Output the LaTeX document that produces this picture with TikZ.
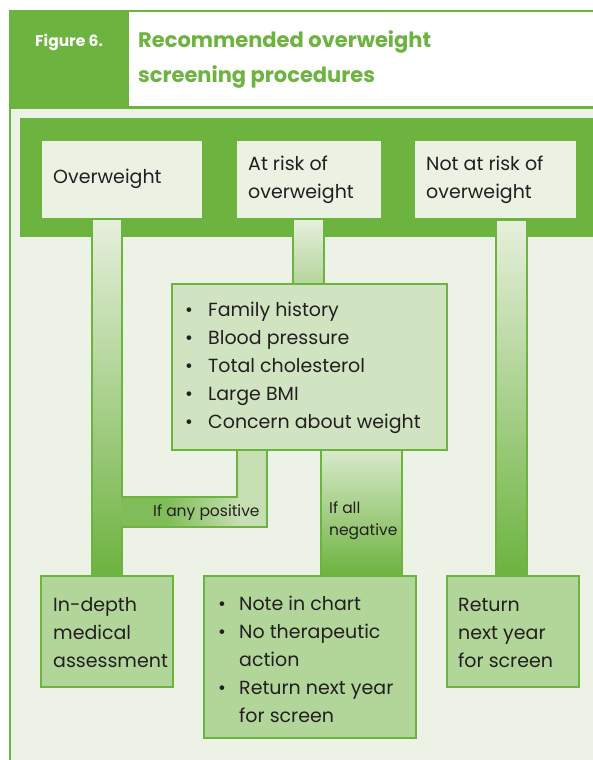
\documentclass[tikz,border=0pt]{standalone}
\usepackage{fontspec}
\setmainfont{Poppins}
\usetikzlibrary{calc}
\definecolor{gr}{HTML}{6DB33F}
\definecolor{bg}{HTML}{ECF2E5}
\definecolor{topbox}{HTML}{EBF1E3}
\definecolor{listbox}{HTML}{D1E4C2}
\definecolor{botbox}{HTML}{B2D69A}
\definecolor{lite}{HTML}{E6EFDC}
\definecolor{midg}{HTML}{A8CE8C}
\definecolor{hgone}{HTML}{80BD58}
\definecolor{lvert}{HTML}{C6DFB2}
\definecolor{negtop}{HTML}{D9EACB}
\definecolor{stubbot}{HTML}{B3D59B}
\definecolor{txt}{HTML}{231F20}
\newcommand\bulA{\makebox[23pt][l]{\textbullet}}
\newcommand\bulB{\makebox[21pt][l]{\textbullet}}
\begin{document}
\begin{tikzpicture}[x=1pt,y=-1pt,
  boxbase/.style={rectangle, anchor=north west, inner sep=0pt, draw=gr, line width=2pt},
  topboxst/.style={rectangle, anchor=north west, inner sep=0pt, fill=topbox},
  listboxst/.style={boxbase, fill=listbox},
  botboxst/.style={boxbase, fill=botbox},
  txtst/.style={anchor=west, inner sep=0pt, align=left, text=txt, font=\fontsize{19}{28}\selectfont},
  lblst/.style={anchor=west, inner sep=0pt, align=left, text=txt, font=\fontsize{15.5}{22}\selectfont},
  edge/.style={draw=gr, line width=2pt}
]
\useasboundingbox (0,0) rectangle (593,760);
\fill[white] (0,0) rectangle (593,760);
% frame and header
\fill[bg] (9,108) rectangle (593,760);
\draw[gr,line width=1.5pt] (9.75,108) -- (9.75,760);
\fill[gr] (9,10) rectangle (128.5,108);
\draw[gr,line width=2pt] (9,11) -- (593,11);
\draw[gr,line width=2.5pt] (9,107.5) -- (593,107.5);
\node[anchor=west, inner sep=0pt, text=white, font=\bfseries\fontsize{15.5}{18}\selectfont] (fig) at (35,42) {Figure 6.};
\node[anchor=west, inner sep=0pt, align=left, text=gr, font=\bfseries\fontsize{21}{35}\selectfont] (title) at (138,59) {Recommended overweight\\screening procedures};
% band
\fill[gr] (20,118) rectangle (593,237);

% connectors (thick bars)
% left bar
\shade[top color=lite, middle color=midg, bottom color=gr] (92,220) rectangle (122,575);
\draw[edge] (92,220) -- (92,575);
\draw[edge] (122,220) -- (122,497);
\draw[edge] (122,527) -- (122,575);
% if any positive L
\fill[hgone] (121,498) rectangle (168,526);
\shade[left color=hgone, right color=lvert] (167.5,498) rectangle (240,526);
\fill[lvert] (237,449) rectangle (267,526);
\draw[edge] (121,497) -- (237,497) -- (237,449);
\draw[edge] (267,449) -- (267,527) -- (121,527);
% at risk stub
\shade[top color=lite, bottom color=stubbot] (293,220) rectangle (324,283);
\draw[edge] (293,220) -- (293,283);
\draw[edge] (324,220) -- (324,283);
% if all negative
\shade[top color=negtop, bottom color=gr] (321,449) rectangle (402,575);
\draw[edge] (321,449) -- (321,575);
\draw[edge] (402,449) -- (402,575);
% right bar
\shade[top color=lite, bottom color=gr] (496,221) rectangle (527,575);
\draw[edge] (496,221) -- (496,575);
\draw[edge] (527,221) -- (527,575);

% top boxes
\node[topboxst, minimum width=160pt, minimum height=77pt] (ow) at (42,141) {};
\node[topboxst, minimum width=144pt, minimum height=77pt] (ar) at (237,141) {};
\node[topboxst, minimum width=161pt, minimum height=77pt] (nr) at (415,141) {};
\node[txtst] (owt) at ($(ow.west)+(11,-1)$) {Overweight};
\node[txtst] (art) at ($(ar.west)+(11,0)$) {At risk of\\overweight};
\node[txtst] (nrt) at ($(nr.west)+(11,0)$) {Not at risk of\\overweight};

% list box
\node[listboxst, minimum width=275pt, minimum height=166pt] (lst) at (171,283) {};
\node[txtst] (lstt) at ($(lst.west)+(14,1)$) {\bulA Family history\\\bulA Blood pressure\\\bulA Total cholesterol\\\bulA Large BMI\\\bulA Concern about weight};

% labels
\node[lblst] (pos) at (153,513) {If any positive};
\node[lblst] (neg) at (329,521) {If all\\negative};

% bottom boxes
\node[botboxst, minimum width=132pt, minimum height=111pt] (ida) at (40,575) {};
\node[botboxst, minimum width=212pt, minimum height=162pt] (mid) at (203,575) {};
\node[botboxst, minimum width=132pt, minimum height=111pt] (ret) at (446,575) {};
\node[txtst] (idat) at ($(ida.west)+(13,1)$) {In-depth\\medical\\assessment};
\node[txtst] (midt) at ($(mid.west)+(15,2)$) {\bulB Note in chart\\\bulB No therapeutic\\\hspace*{21pt}action\\\bulB Return next year\\\hspace*{21pt}for screen};
\node[txtst] (rett) at ($(ret.west)+(12,1)$) {Return\\next year\\for screen};
\end{tikzpicture}
\end{document}
